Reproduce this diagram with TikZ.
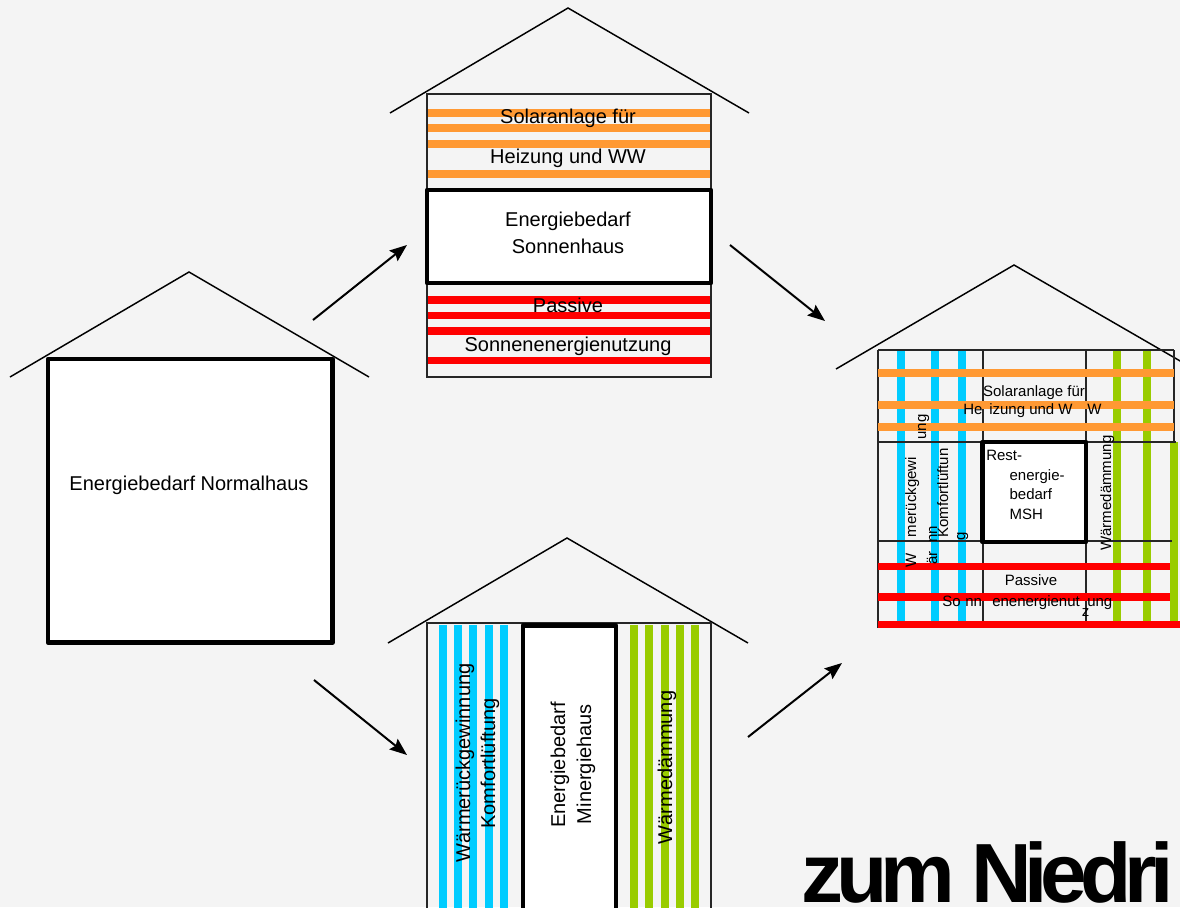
\documentclass[tikz,border=0pt]{standalone}
\usepackage{fontspec}
\setmainfont{Liberation Sans}
\newfontfamily\bigfont[LetterSpace=-8.5]{Liberation Sans}
\usetikzlibrary{arrows.meta}
\definecolor{bgc}{HTML}{F4F4F4}
\definecolor{orangeS}{HTML}{FF9933}
\definecolor{blueS}{HTML}{00CCFF}
\definecolor{greenS}{HTML}{99CC00}
\definecolor{redS}{HTML}{FF0000}
\begin{document}
\begin{tikzpicture}[x=0.75pt,y=-0.75pt,
  roof/.style={draw=black,line width=1.1pt,line join=miter},
  thinline/.style={draw=black!85,line width=0.8pt},
  thickbox/.style={draw=black,fill=white,line width=3.2pt,line join=round},
  ostripe/.style={draw=orangeS,line width=6pt},
  rstripe/.style={draw=redS,line width=5.6pt},
  bstripe/.style={draw=blueS,line width=6pt},
  gstripe/.style={draw=greenS,line width=6pt},
  arr/.style={draw=black,line width=1.5pt,-{Stealth[length=13pt,width=10pt,inset=2pt]}},
  lbl/.style={font=\fontsize{15}{18}\selectfont,inner sep=0pt,anchor=base},
  slbl/.style={font=\fontsize{11.25}{13.5}\selectfont,inner sep=0pt,anchor=base},
  swlbl/.style={font=\fontsize{11.25}{13.5}\selectfont,inner sep=0pt,anchor=base west}]
\useasboundingbox (0,0) rectangle (1180,907);
\fill[bgc] (0,0) rectangle (1180,907);
\clip (0,0) rectangle (1180,907);

% ---------- House 1: Normalhaus ----------
\draw[roof] (10,377) -- (189,272) -- (369,377);
\draw[thickbox] (48,359) rectangle (332.5,642.5);
\node[lbl] (nh) at (189,490.7) {Energiebedarf Normalhaus};

% ---------- House 2: Sonnenhaus ----------
\draw[roof] (390,113) -- (568,8) -- (749,113);
\draw[thinline] (427,94) rectangle (711,377);
\foreach \y in {113,128,143.7,173.7} \draw[ostripe] (428,\y) -- (710,\y);
\foreach \y in {300,315.7,331,360.7} \draw[rstripe] (428,\y) -- (710,\y);
\draw[thickbox] (427,190) rectangle (711,283);
\node[lbl] (s1) at (568,123.3) {Solaranlage für};
\node[lbl] (s2) at (568,163.3) {Heizung und WW};
\node[lbl] (s3) at (568,226.7) {Energiebedarf};
\node[lbl] (s4) at (568,253) {Sonnenhaus};
\node[lbl] (s5) at (568,312.3) {Passive};
\node[lbl] (s6) at (568,351.7) {Sonnenenergienutzung};

% ---------- House 3: Minergiehaus ----------
\draw[roof] (388,643) -- (567,538) -- (748,643);
\draw[thinline] (427,623) rectangle (711,930);
\foreach \x in {443,458,473,488.7,503.7} \draw[bstripe] (\x,625) -- (\x,910);
\foreach \x in {633.7,648.8,664.7,679.5,694.5} \draw[gstripe] (\x,625) -- (\x,910);
\draw[thickbox] (523,625.5) rectangle (616,930);
\node[lbl,rotate=90] (m1) at (470,763) {Wärmerückgewinnung};
\node[lbl,rotate=90] (m2) at (495,763.5) {Komfortlüftung};
\node[lbl,rotate=90] (m3) at (565,765) {Energiebedarf};
\node[lbl,rotate=90] (m4) at (591,764) {Minergiehaus};
\node[lbl,rotate=90] (m5) at (672,767.5) {Wärmedämmung};

% ---------- House 4: MSH ----------
\draw[roof] (836,369) -- (1014,265) -- (1194,369);
\foreach \x in {901,935,961.7} \draw[bstripe] (\x,350) -- (\x,628);
\foreach \x in {1116.7,1147} \draw[gstripe] (\x,350) -- (\x,628);
\draw[greenS,line width=1.5pt] (1174,350) -- (1174,442);
\draw[gstripe,line width=6.2pt] (1174,442) -- (1174,628);
\draw[thinline] (878,350) -- (878,628);
\draw[thinline] (983,350) -- (983,628);
\draw[thinline] (1086,350) -- (1086,628);
\draw[thinline] (1174,350) -- (1174,442);
\draw[thinline] (878,350) -- (1174,350);
\draw[thinline] (878,442) -- (1176,442);
\draw[thinline] (878,541) -- (1172,541);
\foreach \y in {373.3,404.5,427} \draw[ostripe] (878,\y) -- (1174,\y);
\foreach \y in {566.3,597} \draw[rstripe] (878,\y) -- (1170,\y);
\draw[rstripe] (878,624.3) -- (1180,624.3);
\draw[thickbox,line width=3.5pt] (982.5,442) rectangle (1086,542);
% texts
\node[slbl] (r1) at (1034,396) {Solaranlage für};
\node[swlbl] (r2) at (963,414) {He};
\node[swlbl] (r3) at (989,414) {izung und W};
\node[swlbl] (r4) at (1087,414) {W};
\node[swlbl] (r5) at (986,460.7) {Rest-};
\node[swlbl] (r6) at (1009.3,480) {energie-};
\node[swlbl] (r7) at (1009.3,499.3) {bedarf};
\node[swlbl] (r8) at (1009.3,519.3) {MSH};
\node[slbl] (r9) at (1031,585) {Passive};
\node[swlbl] (r10) at (942,606) {So};
\node[swlbl] (r11) at (965,606) {nn};
\node[swlbl] (r12) at (992,606) {enenergienut};
\node[swlbl] (r13) at (1087,606) {ung};
\node[swlbl] (r14) at (1081.7,616.7) {z};
\node[slbl,rotate=90] (v1) at (916,560) {W};
\node[slbl,rotate=90] (v2) at (916,497) {merückgewi};
\node[slbl,rotate=90] (v3) at (926,427) {ung};
\node[slbl,rotate=90] (v4) at (937,558) {är};
\node[slbl,rotate=90] (v5) at (937,534) {nn};
\node[slbl,rotate=90] (v6) at (948,493) {Komfortlüftun};
\node[slbl,rotate=90] (v7) at (965,536) {g};
\node[slbl,rotate=90] (v8) at (1111,493) {Wärmedämmung};

% ---------- arrows ----------
\coordinate (a1s) at (313,320); \coordinate (a1e) at (407,245);
\coordinate (a2s) at (314,680); \coordinate (a2e) at (407,755);
\coordinate (a3s) at (730,245); \coordinate (a3e) at (825,321);
\coordinate (a4s) at (748,737); \coordinate (a4e) at (842,663);
\draw[arr] (a1s) -- (a1e);
\draw[arr] (a2s) -- (a2e);
\draw[arr] (a3s) -- (a3e);
\draw[arr] (a4s) -- (a4e);

% ---------- title fragment ----------
\node[anchor=base west,inner sep=0pt,font=\bigfont\bfseries\fontsize{63}{70}\selectfont] (zn) at (801,902) {zum Niedri};
\end{tikzpicture}
\end{document}
